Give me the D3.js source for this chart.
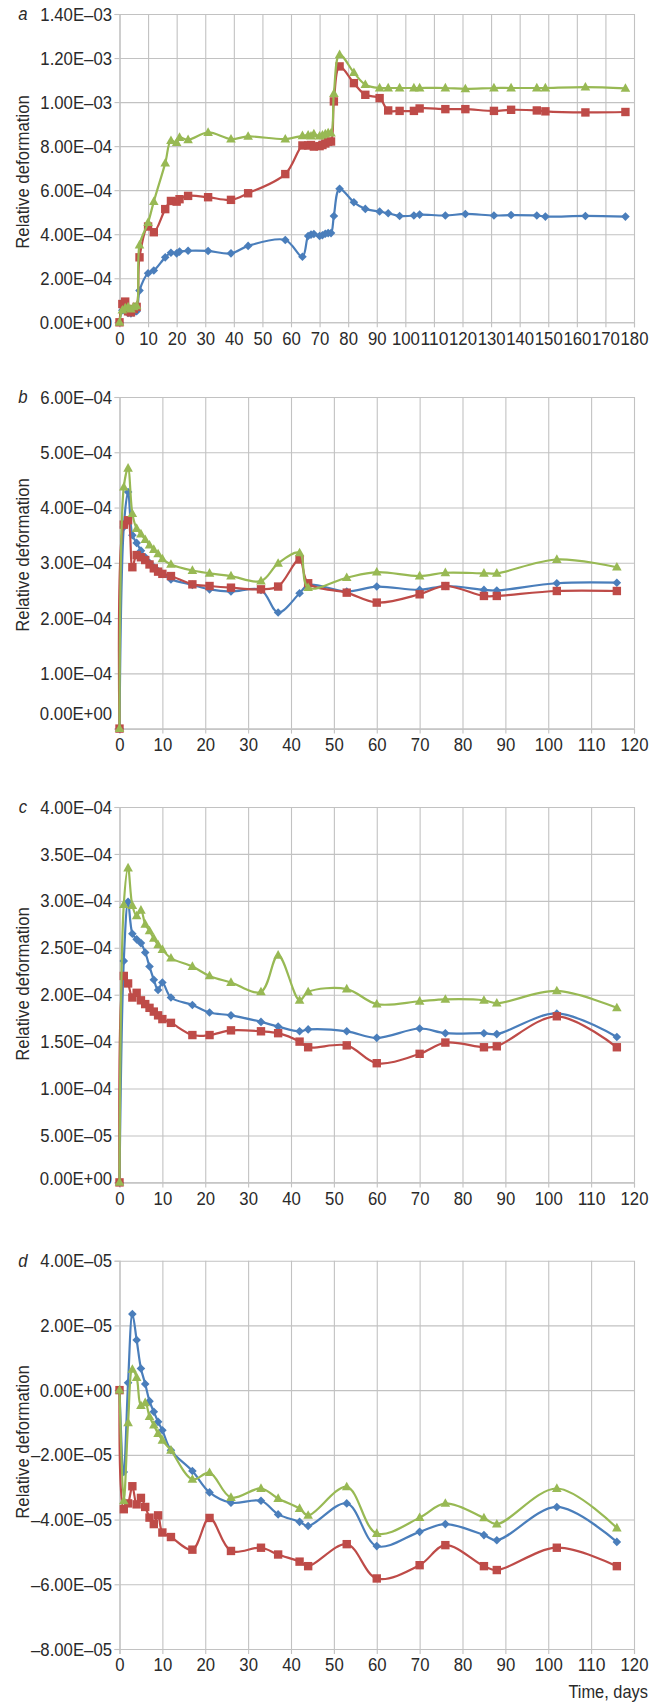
<!DOCTYPE html>
<html><head><meta charset="utf-8">
<script src="https://cdn.jsdelivr.net/npm/d3@7"></script>
<style>
body{margin:0;background:#fff}
svg{display:block}
text{font-family:"Liberation Sans",Arial,sans-serif;fill:#2a2a2a}
</style>
</head><body>
<svg id="chart" width="660" height="1705"></svg>
<script>
// ---------- DATA ----------
// Panel a (values ×1e-4)
const timesA = [0,1,2,3,4,5,6,7,10,12,16,18,20,21,24,31,39,45,58,64,66,67,68,70,71,72,73,74,75,77,82,86,91,94,98,103,105,114,121,131,137,146,149,163,177];
const blueA  = [0,0.55,0.5,0.42,0.4,0.45,0.5,1.44,2.23,2.35,2.95,3.16,3.13,3.21,3.25,3.24,3.13,3.47,3.74,2.98,3.92,3.98,4.01,3.92,3.95,4.02,4.05,4.05,4.83,6.06,5.45,5.15,5.03,4.95,4.83,4.85,4.89,4.85,4.92,4.85,4.87,4.85,4.80,4.83,4.80];
const redA   = [0,0.83,0.94,0.5,0.45,0.6,0.7,2.95,4.35,4.09,5.14,5.51,5.48,5.59,5.74,5.68,5.56,5.86,6.73,8.03,8.03,8.05,7.98,8.0,8.05,8.12,8.2,8.21,10.03,11.62,10.86,10.33,10.18,9.62,9.6,9.6,9.71,9.68,9.68,9.6,9.65,9.62,9.58,9.53,9.55];
const greenA = [0,0.55,0.65,0.7,0.6,0.7,0.75,3.51,4.53,5.48,7.23,8.25,8.16,8.39,8.29,8.62,8.32,8.44,8.32,8.47,8.5,8.45,8.55,8.45,8.5,8.55,8.6,8.59,10.38,12.15,11.34,10.79,10.64,10.64,10.64,10.64,10.64,10.64,10.6,10.64,10.64,10.64,10.64,10.68,10.62];

// Panels b, c, d share the time points
const timesBCD = [0,1,2,3,4,5,6,7,8,9,10,12,17,21,26,33,37,42,44,53,60,70,76,85,88,102,116];
// Panel b (×1e-4)
const blueB  = [0,3.65,4.28,3.5,3.36,3.22,3.1,3.0,2.92,2.85,2.8,2.7,2.6,2.52,2.48,2.51,2.1,2.45,2.6,2.48,2.57,2.51,2.58,2.51,2.5,2.63,2.64];
const redB   = [0,3.69,3.77,2.92,3.14,3.1,3.05,2.97,2.9,2.84,2.8,2.76,2.61,2.58,2.55,2.52,2.57,3.06,2.63,2.46,2.28,2.43,2.58,2.4,2.4,2.49,2.49];
const greenB = [0,4.37,4.71,3.89,3.62,3.52,3.42,3.32,3.24,3.16,3.07,2.97,2.86,2.81,2.76,2.67,2.99,3.18,2.55,2.73,2.83,2.76,2.82,2.81,2.81,3.06,2.92];
// Panel c (×1e-4)
const blueC  = [0,2.36,2.99,2.65,2.59,2.55,2.45,2.3,2.16,2.05,2.13,1.97,1.89,1.81,1.78,1.71,1.66,1.61,1.63,1.61,1.54,1.64,1.59,1.59,1.58,1.80,1.55];
const redC   = [0,2.2,2.12,1.97,2.02,1.94,1.9,1.86,1.82,1.78,1.74,1.7,1.57,1.57,1.62,1.61,1.59,1.5,1.44,1.46,1.27,1.37,1.49,1.44,1.45,1.77,1.44];
const greenC = [0,2.96,3.35,2.95,2.84,2.9,2.75,2.68,2.6,2.53,2.48,2.39,2.3,2.2,2.13,2.03,2.42,1.94,2.03,2.06,1.9,1.93,1.95,1.94,1.91,2.04,1.86];
// Panel d (×1e-5)
const blueD  = [0,-2.53,0.23,2.35,1.55,0.67,0.19,-0.34,-0.67,-0.98,-1.24,-1.86,-2.5,-3.16,-3.48,-3.42,-3.84,-4.07,-4.2,-3.5,-4.82,-4.38,-4.14,-4.48,-4.64,-3.61,-4.69];
const redD   = [0,-3.68,-3.5,-2.97,-3.53,-3.33,-3.61,-3.94,-4.14,-3.87,-4.4,-4.54,-4.93,-3.95,-4.97,-4.87,-5.08,-5.3,-5.44,-4.76,-5.82,-5.41,-4.79,-5.44,-5.56,-4.87,-5.44];
const greenD = [0,-3.42,-1.01,0.64,0.39,-0.48,-0.39,-0.82,-1.08,-1.34,-1.55,-1.86,-2.76,-2.55,-3.32,-3.04,-3.35,-3.66,-3.87,-2.99,-4.43,-3.94,-3.5,-3.95,-4.14,-3.04,-4.26];

// Tick values
const xTicksA = [0,10,20,30,40,50,60,70,80,90,100,110,120,130,140,150,160,170,180];
const xTicksBCD = [0,10,20,30,40,50,60,70,80,90,100,110,120];
const yTicksA = [0,2e-4,4e-4,6e-4,8e-4,10e-4,12e-4,14e-4];
const yTicksB = [0,1e-4,2e-4,3e-4,4e-4,5e-4,6e-4];
const yTicksC = [0,5e-5,10e-5,15e-5,20e-5,25e-5,30e-5,35e-5,40e-5];
const yTicksD = [-8e-5,-6e-5,-4e-5,-2e-5,0,2e-5,4e-5];

const panelLetters = ["a","b","c","d"];
const yTitle = "Relative deformation";
const xTitle = "Time, days";
const seriesColors = ["#4a7ebb","#be4b48","#98b954"];
const seriesShapes = ["diamond","square","triangle"];

// ---------- LAYOUT ----------
const left = 119.5, right = 634;
const panels = [
  {letter:panelLetters[0], t:timesA, s:[blueA,redA,greenA], unit:1e-4, xTicks:xTicksA, yTicks:yTicksA, top:14, bottom:322.3, titleY:172, zeroShift:0},
  {letter:panelLetters[1], t:timesBCD, s:[blueB,redB,greenB], unit:1e-4, xTicks:xTicksBCD, yTicks:yTicksB, top:397, bottom:728.6, titleY:555, zeroShift:-15},
  {letter:panelLetters[2], t:timesBCD, s:[blueC,redC,greenC], unit:1e-4, xTicks:xTicksBCD, yTicks:yTicksC, top:807, bottom:1182.4, titleY:984, zeroShift:-4},
  {letter:panelLetters[3], t:timesBCD, s:[blueD,redD,greenD], unit:1e-5, xTicks:xTicksBCD, yTicks:yTicksD, top:1260.7, bottom:1649, titleY:1442, zeroShift:0}
];

function sci(v){
  if (Math.abs(v) < 1e-15) return "0.00E+00";
  const s = v.toExponential(2);
  let [m, e] = s.split("e");
  const en = parseInt(e, 10);
  const ee = (en < 0 ? "\u2013" : "+") + String(Math.abs(en)).padStart(2, "0");
  m = m.replace("-", "\u2013");
  return m + "E" + ee;
}

// Arial advance widths (em) used to size the slightly condensed lettering
const AW = {" ":.278,",":.278,".":.278,"+":.584,"\u2013":.556,"E":.667,"R":.722,"T":.611,
  a:.556,b:.556,c:.5,d:.556,e:.556,f:.278,g:.556,h:.556,i:.222,l:.222,m:.833,n:.556,o:.556,r:.333,s:.5,t:.278,u:.556,v:.5,y:.5};
function emWidth(str){ let w = 0; for (const ch of str) w += (AW[ch] !== undefined ? AW[ch] : .556); return w; }
const squish = 0.93;

const svg = d3.select("#chart");
const gridColor = "#c2c2c2";
const fs = 18;

function shapePath(kind){
  if (kind === "diamond") return "M0,-4.3L4.3,0L0,4.3L-4.3,0Z";
  if (kind === "square") return "M-4.2,-4.2H4.2V4.2H-4.2Z";
  return "M0,-5.2L4.8,3.4L-4.8,3.4Z";
}

panels.forEach(p => {
  const x = d3.scaleLinear().domain([p.xTicks[0], p.xTicks[p.xTicks.length-1]]).range([left, right]);
  const y = d3.scaleLinear().domain([p.yTicks[0], p.yTicks[p.yTicks.length-1]]).range([p.bottom, p.top]);
  const g = svg.append("g");

  // horizontal gridlines
  g.append("g").attr("transform", `translate(${left},0)`)
    .call(d3.axisLeft(y).tickValues(p.yTicks).tickSize(-(right-left)).tickFormat(""))
    .call(a => a.select(".domain").remove())
    .call(a => a.selectAll("line").attr("stroke", gridColor).attr("stroke-width", 1.1));
  // vertical gridlines
  g.append("g").attr("transform", `translate(0,${p.bottom})`)
    .call(d3.axisBottom(x).tickValues(p.xTicks).tickSize(-(p.bottom-p.top)).tickFormat(""))
    .call(a => a.select(".domain").remove())
    .call(a => a.selectAll("line").attr("stroke", gridColor).attr("stroke-width", 1.1));

  // y axis with labels
  const ya = g.append("g").attr("transform", `translate(${left},0)`)
    .call(d3.axisLeft(y).tickValues(p.yTicks).tickSize(5).tickPadding(2.5).tickFormat(sci));
  ya.select(".domain").attr("stroke", gridColor).attr("stroke-width", 1.1);
  ya.selectAll("line").attr("stroke", gridColor).attr("stroke-width", 1.1);
  ya.selectAll("text").attr("font-size", fs).attr("font-family", null).attr("fill", "#2a2a2a")
    .attr("dy", d => (d === 0 && p.zeroShift) ? p.zeroShift + 6 : "0.34em");

  // x axis with labels
  const xa = g.append("g").attr("transform", `translate(0,${p.bottom})`)
    .call(d3.axisBottom(x).tickValues(p.xTicks).tickSize(5).tickPadding(4.5).tickFormat(d3.format("d")));
  xa.select(".domain").attr("stroke", gridColor).attr("stroke-width", 1.1);
  xa.selectAll("line").attr("stroke", gridColor).attr("stroke-width", 1.1);
  xa.selectAll("text").attr("font-size", fs).attr("font-family", null).attr("fill", "#2a2a2a");

  // panel letter
  g.append("text").attr("x", 23).attr("y", p.top).attr("dy", "0.34em")
    .attr("text-anchor", "middle").attr("font-style", "italic").attr("font-size", fs)
    .text(p.letter);

  // y title
  g.append("text").attr("transform", `translate(23,${p.titleY}) rotate(-90)`)
    .attr("text-anchor", "middle").attr("dy", "0.34em").attr("font-size", fs)
    .text(yTitle);

  // series
  const line = d3.line().curve(d3.curveCatmullRom.alpha(0.5));
  p.s.forEach((vals, i) => {
    const pts = p.t.map((t, k) => [x(t), y(vals[k] * p.unit)]);
    g.append("path").attr("d", line(pts)).attr("fill", "none")
      .attr("stroke", seriesColors[i]).attr("stroke-width", 2.2);
    g.append("g").selectAll("path").data(pts).join("path")
      .attr("transform", d => `translate(${d[0]},${d[1]})`)
      .attr("d", shapePath(seriesShapes[i]))
      .attr("fill", seriesColors[i]);
  });
});

svg.append("text").attr("x", 648).attr("y", 1692).attr("dy", "0.34em")
  .attr("text-anchor", "end").attr("font-size", 17.5).text(xTitle);

// give every text its slightly condensed width
svg.selectAll("text").each(function(){
  const str = this.textContent;
  if (!str) return;
  const size = parseFloat(this.getAttribute("font-size")) || fs;
  this.setAttribute("textLength", (emWidth(str) * size * squish).toFixed(2));
  this.setAttribute("lengthAdjust", "spacingAndGlyphs");
});
</script>
</body></html>
